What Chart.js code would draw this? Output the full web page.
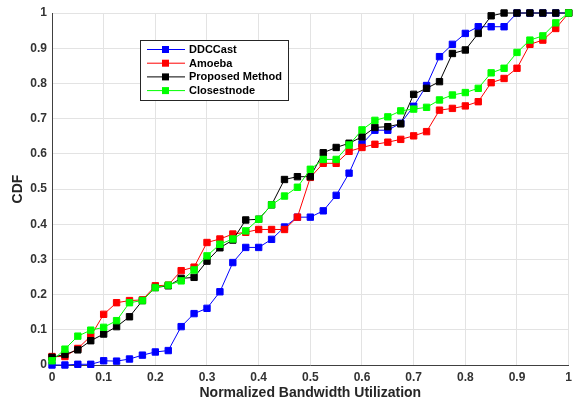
<!DOCTYPE html>
<html>
<head>
<meta charset="utf-8">
<script src="https://cdn.jsdelivr.net/npm/chart.js@4.4.1/dist/chart.umd.min.js"></script>
<style>
  body { margin: 0; background: #fff; }
  canvas { display: block; }
</style>
</head>
<body>
<canvas id="cdf-chart" width="577" height="406"></canvas>
<script>
// normalized bandwidth utilization, 0 : 0.025 : 1
const xValues = [0, 0.025, 0.05, 0.075, 0.1, 0.125, 0.15, 0.175, 0.2, 0.225,
  0.25, 0.275, 0.3, 0.325, 0.35, 0.375, 0.4, 0.425, 0.45, 0.475,
  0.5, 0.525, 0.55, 0.575, 0.6, 0.625, 0.65, 0.675, 0.7, 0.725,
  0.75, 0.775, 0.8, 0.825, 0.85, 0.875, 0.9, 0.925, 0.95, 0.975, 1];

const ddccast = [0, 0, 0.002, 0.002, 0.012, 0.011, 0.017, 0.028, 0.037, 0.041,
  0.109, 0.146, 0.161, 0.208, 0.291, 0.334, 0.334, 0.357, 0.392, 0.420,
  0.420, 0.438, 0.482, 0.545, 0.628, 0.667, 0.667, 0.687, 0.735, 0.794,
  0.876, 0.911, 0.942, 0.961, 0.961, 0.961, 1, 1, 1, 1, 1];

const amoeba = [0.024, 0.024, 0.047, 0.082, 0.144, 0.177, 0.183, 0.185, 0.225, 0.227,
  0.268, 0.278, 0.348, 0.358, 0.372, 0.377, 0.385, 0.385, 0.385, 0.420,
  0.533, 0.573, 0.573, 0.607, 0.618, 0.627, 0.633, 0.641, 0.651, 0.663,
  0.724, 0.729, 0.736, 0.748, 0.802, 0.814, 0.843, 0.911, 0.923, 0.956, 1];

const proposed = [0.022, 0.030, 0.043, 0.069, 0.088, 0.109, 0.137, 0.183, 0.220, 0.225,
  0.246, 0.249, 0.295, 0.333, 0.355, 0.412, 0.414, 0.455, 0.527, 0.535,
  0.535, 0.603, 0.618, 0.630, 0.648, 0.675, 0.677, 0.685, 0.769, 0.786,
  0.805, 0.885, 0.895, 0.942, 0.992, 1, 1, 1, 1, 1, 1];

const closestnode = [0.012, 0.045, 0.082, 0.099, 0.107, 0.126, 0.177, 0.183, 0.220, 0.227,
  0.239, 0.270, 0.310, 0.343, 0.358, 0.381, 0.414, 0.455, 0.480, 0.505,
  0.556, 0.584, 0.584, 0.625, 0.668, 0.695, 0.705, 0.722, 0.727, 0.732,
  0.753, 0.767, 0.774, 0.786, 0.830, 0.843, 0.888, 0.923, 0.935, 0.972, 1];

const seriesNames = ['DDCCast', 'Amoeba', 'Proposed Method', 'Closestnode'];
const seriesColors = ['#0000ff', '#ff0000', '#000000', '#00ff00'];
const seriesValues = [ddccast, amoeba, proposed, closestnode];

const tickFont = { family: 'Liberation Sans, Arial, sans-serif', size: 12, weight: 'bold' };
const titleFont = { family: 'Liberation Sans, Arial, sans-serif', size: 14, weight: 'bold' };

let toPoints = (values) => values.map((v, i) => ({ x: xValues[i], y: v }));

let makeDataset = (i) => ({
  label: seriesNames[i],
  data: toPoints(seriesValues[i]),
  borderColor: seriesColors[i],
  backgroundColor: seriesColors[i],
  borderWidth: 1,
  pointStyle: 'rect',
  pointRadius: 4.5,
  pointBorderWidth: 1,
  pointBorderColor: seriesColors[i],
  pointBackgroundColor: seriesColors[i],
  tension: 0,
  clip: 6,
  // later series drawn on top, like the original plot
  order: seriesNames.length - i
});

// legend box drawn inside the plot, like the matlab one
const boxLegend = {
  id: 'boxLegend',
  afterDatasetsDraw(chart) {
    const ctx = chart.ctx;
    const x0 = 140, y0 = 40, w = 148, h = 60;
    ctx.save();
    ctx.fillStyle = '#fff';
    ctx.fillRect(x0, y0, w, h);
    ctx.strokeStyle = '#262626';
    ctx.lineWidth = 1;
    ctx.strokeRect(x0 + 0.5, y0 + 0.5, w, h);
    ctx.font = 'bold 11px "Liberation Sans", Arial, sans-serif';
    ctx.textBaseline = 'middle';
    chart.data.datasets.forEach((ds, i) => {
      const y = y0 + 9.5 + i * 13.7;
      ctx.strokeStyle = ds.borderColor;
      ctx.beginPath();
      ctx.moveTo(x0 + 7, y);
      ctx.lineTo(x0 + 45, y);
      ctx.stroke();
      ctx.fillStyle = ds.borderColor;
      ctx.fillRect(x0 + 22, y - 3.5, 7, 7);
      ctx.fillStyle = '#000';
      ctx.fillText(ds.label, x0 + 49, y + 0.5);
    });
    ctx.restore();
  }
};

const cdfChart = new Chart(document.querySelector('#cdf-chart').getContext('2d'), {
  type: 'line',
  data: { datasets: seriesNames.map((n, i) => makeDataset(i)) },
  options: {
    responsive: false,
    animation: false,
    devicePixelRatio: 1,
    layout: { padding: { top: 13, right: 2, left: 0, bottom: 0 } },
    plugins: { legend: { display: false }, tooltip: { enabled: false } },
    scales: {
      x: {
        type: 'linear',
        min: 0,
        max: 1,
        afterFit: (scale) => { scale.height = 41; },
        grid: { color: '#e3e3e3', drawTicks: false },
        border: { color: '#404040', width: 1 },
        ticks: {
          stepSize: 0.1,
          padding: 5,
          color: '#333',
          font: tickFont,
          maxRotation: 0,
          callback: (v) => String(Math.round(v * 10) / 10)
        },
        title: { display: true, text: 'Normalized Bandwidth Utilization', color: '#262626', font: titleFont, padding: { top: 0, bottom: 4 } }
      },
      y: {
        min: 0,
        max: 1,
        afterFit: (scale) => { scale.width = 52; },
        grid: { color: '#e3e3e3', drawTicks: false },
        border: { color: '#404040', width: 1 },
        ticks: {
          stepSize: 0.1,
          padding: 5,
          color: '#333',
          font: tickFont,
          callback: (v) => String(Math.round(v * 10) / 10)
        },
        title: { display: true, text: 'CDF', color: '#262626', font: titleFont, padding: { top: 10, bottom: 0 } }
      }
    }
  },
  plugins: [boxLegend]
});
</script>
</body>
</html>
